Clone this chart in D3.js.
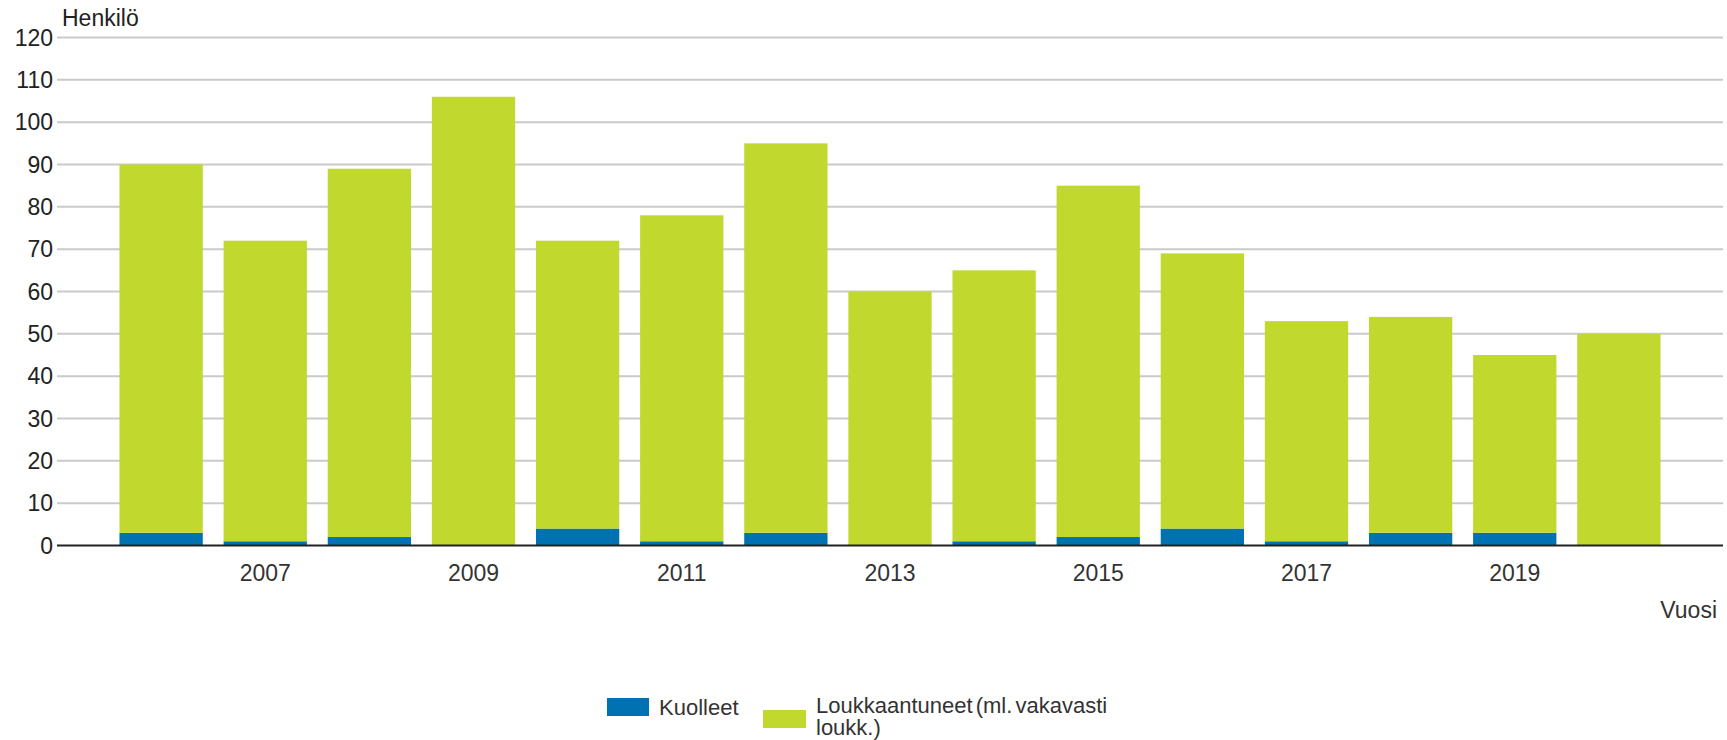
<!DOCTYPE html>
<html>
<head>
<meta charset="utf-8">
<script src="https://cdn.jsdelivr.net/npm/d3@7"></script>
<style>
  body { margin: 0; background: #fff; }
  svg { display: block; font-family: "Liberation Sans", Arial, sans-serif; }
</style>
</head>
<body>
<svg id="chart"></svg>
<script>
// data
var years = ["2006", "2007", "2008", "2009", "2010", "2011", "2012", "2013", "2014", "2015", "2016", "2017", "2018", "2019", "2020"];
var kuolleet = [3, 1, 2, 0, 4, 1, 3, 0, 1, 2, 4, 1, 3, 3, 0];
var loukkaantuneet = [87, 71, 87, 106, 68, 77, 92, 60, 64, 83, 65, 52, 51, 42, 50];
var yTicks = [0, 10, 20, 30, 40, 50, 60, 70, 80, 90, 100, 110, 120];
var xTickLabels = ["2007", "2009", "2011", "2013", "2015", "2017", "2019"];
var seriesNames = ["Kuolleet", "Loukkaantuneet (ml. vakavasti", "loukk.)"];

var colors = ["#0071b1", "#c1d82f"];

var width = 1727, height = 740;
var plotLeft = 57, plotRight = 1723, plotTop = 37.5, plotBottom = 545.5;

var svg = d3.select("#chart").attr("width", width).attr("height", height);

var x = d3.scaleBand().domain(years).range([plotLeft, plotRight])
    .paddingInner(0.2).paddingOuter(0.6);
var y = d3.scaleLinear().domain([0, 120]).range([plotBottom, plotTop]);

// grid lines
svg.append("g").selectAll("line")
    .data(yTicks.filter(d => d > 0))
    .enter().append("line")
    .attr("x1", plotLeft).attr("x2", plotRight)
    .attr("y1", d => y(d)).attr("y2", d => y(d))
    .attr("stroke", "#cacaca").attr("stroke-width", 2);

// y labels
svg.append("g").selectAll("text")
    .data(yTicks)
    .enter().append("text")
    .attr("x", 53).attr("y", d => y(d))
    .attr("dy", "0.36em")
    .attr("text-anchor", "end")
    .attr("font-size", 23)
    .attr("fill", "#222")
    .text(d => d);

// stacked bars
var rows = years.map((yr, i) => ({year: yr, k: kuolleet[i], l: loukkaantuneet[i]}));
var stack = d3.stack().keys(["k", "l"]);
var layers = stack(rows);

svg.append("g").selectAll("g")
    .data(layers)
    .enter().append("g")
    .attr("fill", (d, i) => colors[i])
    .selectAll("rect")
    .data(d => d)
    .enter().append("rect")
    .attr("x", d => x(d.data.year))
    .attr("width", x.bandwidth())
    .attr("y", d => y(d[1]))
    .attr("height", d => y(d[0]) - y(d[1]));

// baseline
svg.append("line")
    .attr("x1", plotLeft).attr("x2", plotRight)
    .attr("y1", y(0)).attr("y2", y(0))
    .attr("stroke", "#222").attr("stroke-width", 2);

// x labels
svg.append("g").selectAll("text")
    .data(xTickLabels)
    .enter().append("text")
    .attr("x", d => x(d) + x.bandwidth() / 2)
    .attr("y", 581)
    .attr("text-anchor", "middle")
    .attr("font-size", 23)
    .attr("fill", "#333")
    .text(d => d);

// axis titles
svg.append("text").attr("x", 62).attr("y", 26)
    .attr("font-size", 23).attr("fill", "#222").text("Henkilö");
svg.append("text").attr("x", 1717).attr("y", 618)
    .attr("text-anchor", "end")
    .attr("font-size", 23).attr("fill", "#333").text("Vuosi");

// legend
var legend = svg.append("g").attr("font-size", 22).attr("fill", "#333");
legend.append("rect").attr("x", 607).attr("y", 698).attr("width", 42).attr("height", 18).attr("fill", colors[0]);
legend.append("text").attr("x", 659).attr("y", 715).text(seriesNames[0]);
legend.append("rect").attr("x", 763).attr("y", 710).attr("width", 43).attr("height", 18).attr("fill", colors[1]);
legend.append("text").attr("x", 816).attr("y", 713).attr("word-spacing", -3).text(seriesNames[1]);
legend.append("text").attr("x", 816).attr("y", 735).text(seriesNames[2]);
</script>
</body>
</html>
